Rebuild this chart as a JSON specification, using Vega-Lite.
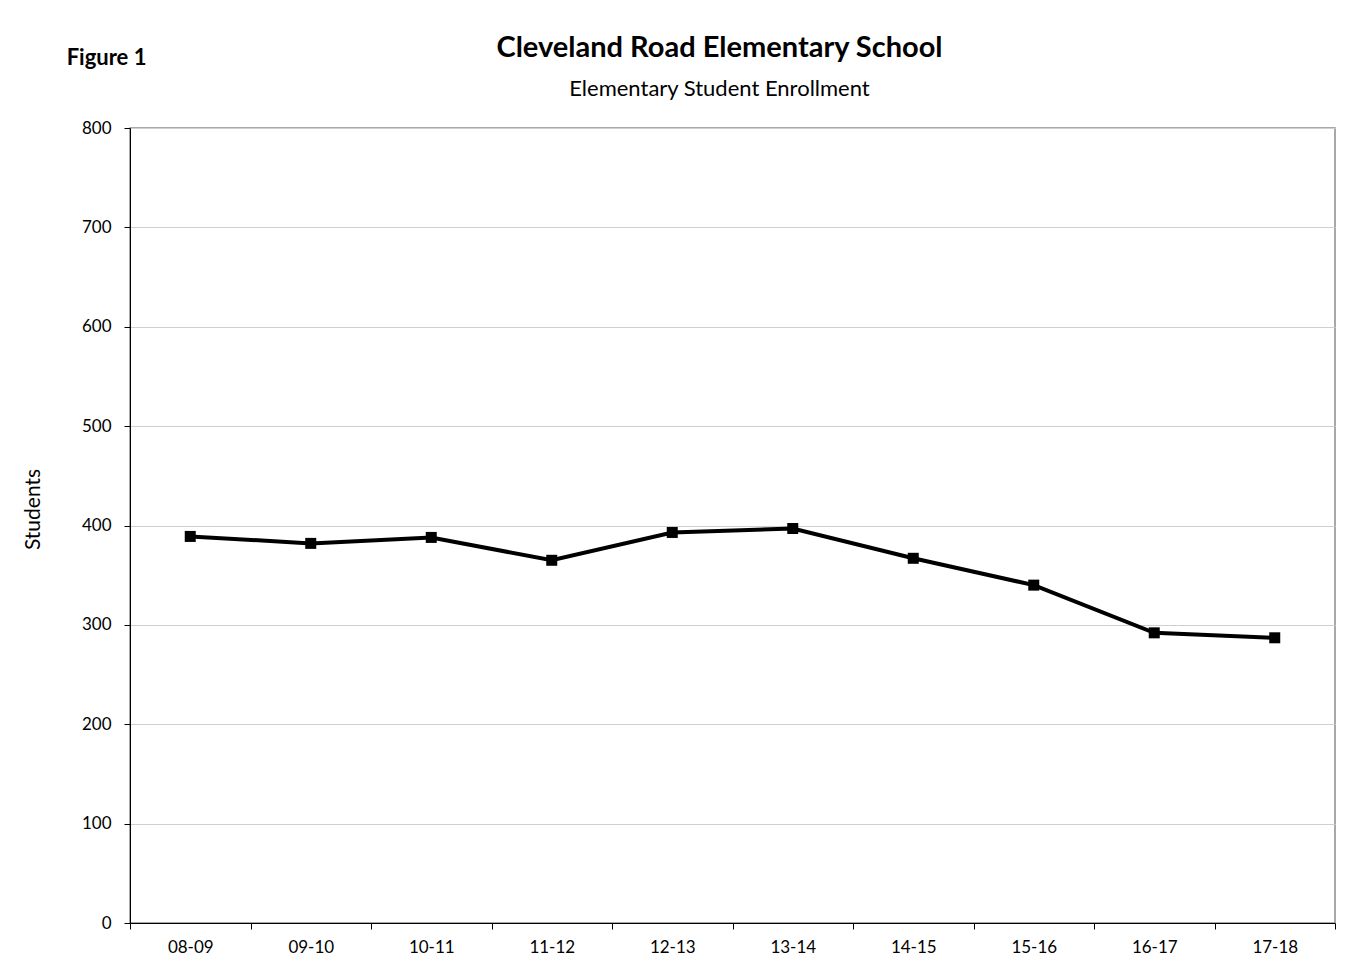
{
  "$schema": "https://vega.github.io/schema/vega-lite/v6.json",
  "background": "white",
  "padding": {"left": 21, "top": 33, "right": 19, "bottom": 10},
  "title": {"text": "Figure 1", "anchor": "start", "fontSize": 22, "fontWeight": "bold", "font": "Lato", "color": "black", "dx": 45, "dy": 41},
  "vconcat": [
    {
      "width": 1205,
      "height": 795,
      "title": {
        "text": "Cleveland Road Elementary School",
        "subtitle": "Elementary Student Enrollment",
        "anchor": "middle",
        "font": "Lato",
        "fontSize": 29,
        "fontWeight": "bold",
        "color": "black",
        "subtitleFont": "Lato",
        "subtitleFontSize": 22,
        "subtitleColor": "black",
        "subtitlePadding": 16,
        "offset": 19,
        "dx": -13
      },
      "data": {
        "values": [
          {"year": "08-09", "students": 389},
          {"year": "09-10", "students": 382},
          {"year": "10-11", "students": 388},
          {"year": "11-12", "students": 365},
          {"year": "12-13", "students": 393},
          {"year": "13-14", "students": 397},
          {"year": "14-15", "students": 367},
          {"year": "15-16", "students": 340},
          {"year": "16-17", "students": 292},
          {"year": "17-18", "students": 287}
        ]
      },
      "encoding": {
        "x": {
          "field": "year",
          "type": "ordinal",
          "sort": null,
          "scale": {"type": "band", "paddingInner": 0, "paddingOuter": 0},
          "axis": {
            "title": null,
            "labelAngle": 0,
            "tickBand": "extent",
            "grid": false,
            "domainColor": "black",
            "tickColor": "black",
            "tickSize": 6,
            "labelPadding": 10,
            "labelFontSize": 17,
            "labelFont": "Lato",
            "labelColor": "black"
          }
        },
        "y": {
          "field": "students",
          "type": "quantitative",
          "scale": {"domain": [0, 800], "nice": false},
          "axis": {
            "title": "Students",
            "titleFont": "Lato",
            "titleFontSize": 21,
            "titleFontWeight": "normal",
            "titleColor": "black",
            "titlePadding": 38,
            "titleY": 381,
            "values": [0, 100, 200, 300, 400, 500, 600, 700, 800],
            "grid": true,
            "gridColor": "#cfcfcf",
            "gridWidth": 1,
            "domainColor": "black",
            "tickColor": "black",
            "tickSize": 6,
            "labelPadding": 13,
            "labelFontSize": 17,
            "labelFont": "Lato",
            "labelColor": "black"
          }
        }
      },
      "layer": [
        {"mark": {"type": "line", "color": "black", "strokeWidth": 4}},
        {"mark": {"type": "square", "color": "black", "size": 121, "opacity": 1, "filled": true}}
      ]
    }
  ],
  "config": {
    "view": {"stroke": "#8c8c8c", "strokeWidth": 1.5}
  }
}
